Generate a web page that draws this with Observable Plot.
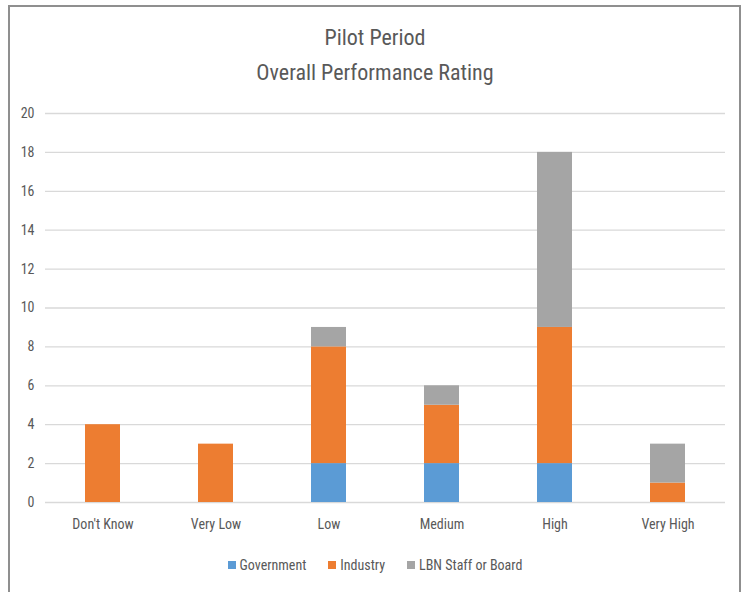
<!DOCTYPE html>
<html>
<head>
<meta charset="utf-8">
<script src="https://cdn.jsdelivr.net/npm/d3@7"></script>
<script src="https://cdn.jsdelivr.net/npm/@observablehq/plot@0.6"></script>
<style>
  html, body { margin: 0; padding: 0; background: #fff; }
  #wrap { position: relative; width: 750px; height: 592px; overflow: hidden;
    font-family: "Liberation Sans Narrow", "Roboto Condensed", "Roboto", "Open Sans", sans-serif; color: #595959; }
  #frame { position: absolute; left: 8px; top: 5px; width: 733px; height: 600px; border: 2px solid #8f8f8f; box-sizing: border-box; }
  #title { position: absolute; left: 0; top: 0; width: 750px; height: 100px; text-align: center; font-size: 22px; color: #595959; }
  #title div { position: absolute; width: 750px; }
  #chart { position: absolute; left: 0; top: 100px; }
  #legend { position: absolute; left: 0; top: 557px; width: 750px; display: flex; justify-content: center; gap: 22px; font-size: 14px; color: #595959; }
  #legend span.item { display: flex; align-items: center; }
  #legend span.sw { display: inline-block; width: 8px; height: 8px; margin-right: 4px; }
</style>
</head>
<body>
<div id="wrap">
  <div id="frame"></div>
  <div id="title"><div style="top:25px">Pilot Period</div><div style="top:60px">Overall Performance Rating</div></div>
  <div id="chart"></div>
  <div id="legend"></div>
</div>
<script>
const categories = ["Don't Know", "Very Low", "Low", "Medium", "High", "Very High"];
const seriesNames = ["Government", "Industry", "LBN Staff or Board"];
const government = [0, 0, 2, 2, 2, 0];
const industry = [4, 3, 6, 3, 7, 1];
const lbnStaff = [0, 0, 1, 1, 9, 2];
const colors = ["#5B9BD5", "#ED7D31", "#A5A5A5"];
const yTicks = [0, 2, 4, 6, 8, 10, 12, 14, 16, 18, 20];

const seriesValues = [government, industry, lbnStaff];
const data = [];
seriesNames.forEach((s, si) => categories.forEach((c, ci) => data.push({category: c, series: s, value: seriesValues[si][ci]})));

const plot = Plot.plot({
  width: 750,
  height: 442,
  marginTop: 13,
  marginBottom: 40,
  marginLeft: 45,
  marginRight: 25,
  style: {fontFamily: "'Liberation Sans Narrow', 'Roboto Condensed', 'Roboto', 'Open Sans', sans-serif", fontSize: "14px", color: "#595959", background: "transparent"},
  x: {domain: categories, label: null, paddingInner: 0.69, paddingOuter: 0.345, tickSize: 0},
  y: {domain: [0, 20], ticks: yTicks, label: null, tickSize: 0, tickFormat: d => d},
  color: {domain: seriesNames, range: colors},
  marks: [
    Plot.gridY(yTicks, {stroke: "#d9d9d9", strokeOpacity: 1, strokeWidth: 1.3}),
    Plot.barY(data, Plot.stackY({x: "category", y: "value", fill: "series", order: seriesNames})),
    Plot.axisX({tickSize: 0, tickPadding: 17, fontSize: 14}),
    Plot.axisY(yTicks, {tickSize: 0, tickPadding: 11, fontSize: 14})
  ]
});
document.getElementById("chart").appendChild(plot);

const legend = document.getElementById("legend");
seriesNames.forEach((s, i) => {
  const item = document.createElement("span");
  item.className = "item";
  item.innerHTML = `<span class="sw" style="background:${colors[i]}"></span>${s}`;
  legend.appendChild(item);
});
</script>
</body>
</html>
